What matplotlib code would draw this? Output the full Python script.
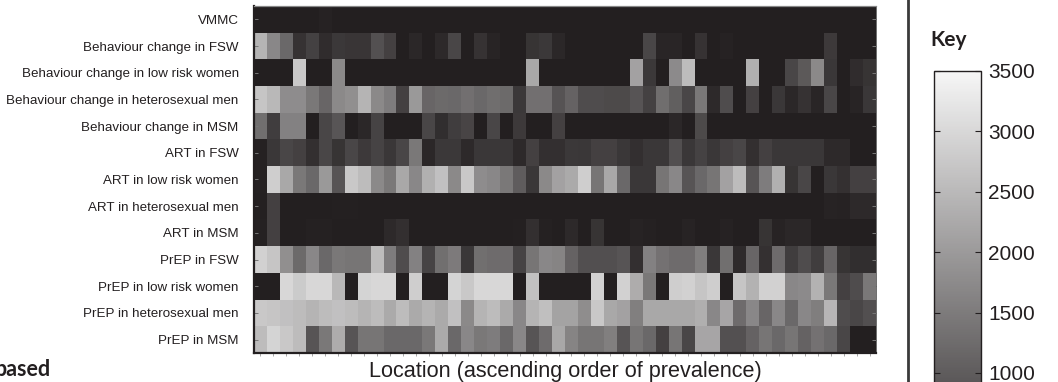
import numpy as np
import matplotlib
matplotlib.use("Agg")
import matplotlib.pyplot as plt
from matplotlib.colors import LinearSegmentedColormap

interventions = [
    "VMMC",
    "Behaviour change in FSW",
    "Behaviour change in low risk women",
    "Behaviour change in heterosexual men",
    "Behaviour change in MSM",
    "ART in FSW",
    "ART in low risk women",
    "ART in heterosexual men",
    "ART in MSM",
    "PrEP in FSW",
    "PrEP in low risk women",
    "PrEP in heterosexual men",
    "PrEP in MSM",
]

vmmc = [0, 0, 0, 0, 0, 60, 0, 0, 0, 0, 0, 0, 0, 0, 0, 0, 0, 0, 0, 0, 0, 0, 0, 0,
        0, 0, 0, 0, 0, 0, 0, 0, 0, 0, 0, 0, 0, 0, 0, 0, 0, 0, 0, 0, 0, 0, 0, 0]
bc_fsw = [2430, 1700, 1190, 320, 570, 220, 420, 380, 380, 820, 550, 0, 150, 0, 185, 650,
          0, 320, 100, 0, 0, 350, 420, 150, 0, 0, 0, 0, 0, 0, 650, 120,
          120, 0, 320, 0, 60, 0, 0, 0, 0, 0, 0, 0, 450, 0, 0, 0]
bc_lrw = [0, 0, 0, 2760, 0, 0, 1725, 0, 0, 0, 0, 0, 0, 0, 0, 0,
          0, 0, 0, 0, 0, 2230, 0, 0, 0, 0, 0, 0, 0, 2120, 420, 0,
          1760, 2560, 0, 0, 0, 0, 2360, 0, 0, 650, 950, 1725, 400, 0, 220, 350]
bc_het = [2700, 2500, 1790, 1790, 1450, 1160, 1725, 1830, 2430, 1725, 1525, 550, 1990, 1160, 1230, 1190,
          1320, 1190, 1290, 1220, 420, 1320, 1320, 850, 1100, 750, 750, 700, 700, 880, 570, 1290,
          1050, 650, 1450, 185, 750, 0, 550, 0, 400, 150, 320, 120, 650, 0, 100, 400]
bc_msm = [1300, 500, 1600, 1600, 0, 650, 900, 0, 150, 600, 0, 0, 0, 650, 250, 500,
          620, 0, 650, 0, 450, 0, 0, 550, 0, 0, 0, 0, 0, 0, 0, 0,
          150, 0, 700, 0, 0, 0, 0, 0, 0, 0, 0, 0, 0, 0, 0, 0]
art_fsw = [50, 400, 650, 550, 280, 650, 350, 650, 450, 600, 400, 650, 1450, 150, 420, 420,
           185, 400, 400, 400, 185, 550, 280, 280, 420, 400, 550, 550, 400, 280, 400, 400,
           800, 400, 580, 400, 550, 650, 280, 550, 400, 400, 400, 400, 185, 185, 0, 0]
art_lrw = [50, 2850, 2230, 1450, 1190, 1990, 880, 2760, 2560, 1725, 1450, 2230, 1700, 2360, 2630, 1725,
           2760, 1790, 1700, 1450, 1000, 400, 1725, 2120, 2260, 2850, 1400, 2230, 1190, 400, 400, 1400,
           1700, 880, 1190, 1400, 2120, 2560, 880, 1520, 2360, 350, 650, 0, 400, 300, 550, 550]
art_het = [30, 550, 20, 20, 20, 20, 40, 40, 0, 0, 0, 0, 0, 0, 0, 0,
           0, 0, 0, 0, 0, 0, 0, 0, 0, 0, 0, 0, 0, 0, 0, 0,
           0, 0, 0, 0, 0, 0, 0, 0, 0, 0, 0, 0, 80, 60, 180, 180]
art_msm = [50, 550, 0, 0, 50, 50, 0, 0, 0, 0, 185, 280, 0, 0, 0, 0,
           0, 0, 0, 0, 40, 280, 50, 0, 185, 0, 350, 0, 0, 80, 50, 0,
           0, 80, 0, 0, 60, 0, 0, 350, 80, 150, 150, 0, 0, 0, 0, 0]
prep_fsw = [2900, 2700, 1830, 1230, 1700, 1200, 1450, 1400, 1400, 2560, 1525, 750, 1600, 600, 1300, 1500,
            400, 1300, 1250, 1250, 600, 1400, 1700, 1650, 1100, 800, 800, 800, 880, 280, 1600, 1350,
            1250, 1250, 1550, 400, 1300, 200, 1150, 300, 1250, 500, 750, 500, 1150, 350, 250, 250]
prep_lrw = [0, 0, 3000, 2800, 3000, 3000, 2500, 0, 2950, 3000, 3000, 0, 2850, 0, 0, 2950,
            2750, 3000, 3000, 3000, 0, 2650, 0, 0, 0, 0, 2900, 0, 2900, 2300, 1450, 0,
            2850, 2900, 2700, 2850, 0, 2700, 2400, 2900, 2900, 1700, 1750, 2400, 1450, 550, 750, 1450]
prep_het = [2760, 2700, 2630, 2560, 2430, 2560, 2630, 2560, 2430, 2560, 2260, 2560, 2260, 2430, 2260, 2630,
            1725, 2430, 2560, 2260, 1700, 2430, 2600, 2150, 2150, 1800, 2760, 2230, 2120, 1570, 2230, 2230,
            2230, 2230, 2350, 1700, 2200, 1250, 1700, 1150, 1700, 1200, 1700, 1550, 2450, 750, 650, 800]
prep_msm = [2560, 2950, 2760, 2560, 880, 1450, 2300, 880, 1400, 1400, 1190, 1200, 1190, 1450, 2260, 1200,
            1700, 1450, 1520, 1190, 1700, 880, 1250, 2230, 1650, 1400, 1400, 1570, 880, 1400, 1190, 550,
            1400, 650, 2200, 2200, 820, 820, 1100, 1400, 1190, 1400, 1100, 1350, 1190, 650, 0, 0]

rows = [vmmc, bc_fsw, bc_lrw, bc_het, bc_msm, art_fsw, art_lrw, art_het, art_msm,
        prep_fsw, prep_lrw, prep_het, prep_msm]
data = np.array(rows, dtype=float)
n_loc = data.shape[1]

vmin, vmax = 0, 3500
cbar_ticks = [1000, 1500, 2000, 2500, 3000, 3500]

SANS = ["Liberation Sans", "DejaVu Sans"]
BOLD = ["Lato", "DejaVu Sans"]

cmap = LinearSegmentedColormap.from_list("printgray", ["#231f20", "#f6f6f6"])
W, H = 1058, 382
fig = plt.figure(figsize=(W / 100, H / 100), dpi=100)

def fx(px):
    return px / W

def fy(py):
    return 1 - py / H

# heatmap
ax = fig.add_axes([fx(254), fy(353), fx(876) - fx(254), fy(6) - fy(353)])
im = ax.imshow(data, aspect="auto", cmap=cmap, vmin=vmin, vmax=vmax,
               interpolation="nearest")
ax.set_yticks(range(len(interventions)))
ax.set_yticklabels(interventions, fontsize=9.6, color="#231f20", family=SANS)
ax.set_xticks(range(n_loc))
ax.set_xticklabels([])
ax.tick_params(axis="x", direction="out", length=2, width=0.6, color="#999999")
ax.tick_params(axis="y", direction="in", length=3, width=0.7, color="#777777",
               pad=11, right=True)
ax.spines["left"].set_linewidth(1.6)
ax.spines["left"].set_color("#231f20")
ax.spines["bottom"].set_linewidth(1.6)
ax.spines["bottom"].set_color("#231f20")
ax.spines["top"].set_linewidth(0.9)
ax.spines["top"].set_color("#888888")
ax.spines["right"].set_linewidth(0.6)
ax.spines["right"].set_color("#555555")

fig.text(fx(565), fy(371), "Location (ascending order of prevalence)", fontsize=15.6,
         color="#231f20", family=SANS, ha="center", va="center")

# divider line
fig.add_artist(plt.Line2D([fx(908), fx(908)], [0, 1], color="#3a3a3a",
                          linewidth=2.0, transform=fig.transFigure))

# colorbar (extends below the cropped figure)
px_per_500 = 60.4
cb_top = 71
cb_bottom = cb_top + (vmax - vmin) / 500 * px_per_500
cax = fig.add_axes([fx(934), fy(cb_bottom), fx(981) - fx(934), fy(cb_top) - fy(cb_bottom)])
cb = fig.colorbar(im, cax=cax, ticks=cbar_ticks)
cb.outline.set_linewidth(1.0)
cb.outline.set_edgecolor("#231f20")
cax.tick_params(axis="y", direction="in", length=4, width=0.8, color="#231f20",
                left=True, right=True, labelsize=15, labelcolor="#231f20", pad=5)
for t in cax.get_yticklabels():
    t.set_family(SANS)

fig.text(fx(930), fy(40), "Key", fontsize=15, fontweight="bold",
         family=BOLD, color="#231f20", ha="left", va="center")
fig.text(fx(-5), fy(370), "based", fontsize=15.5, fontweight="bold",
         family=BOLD, color="#231f20", ha="left", va="center")

fig.savefig("out.png", dpi=100)
